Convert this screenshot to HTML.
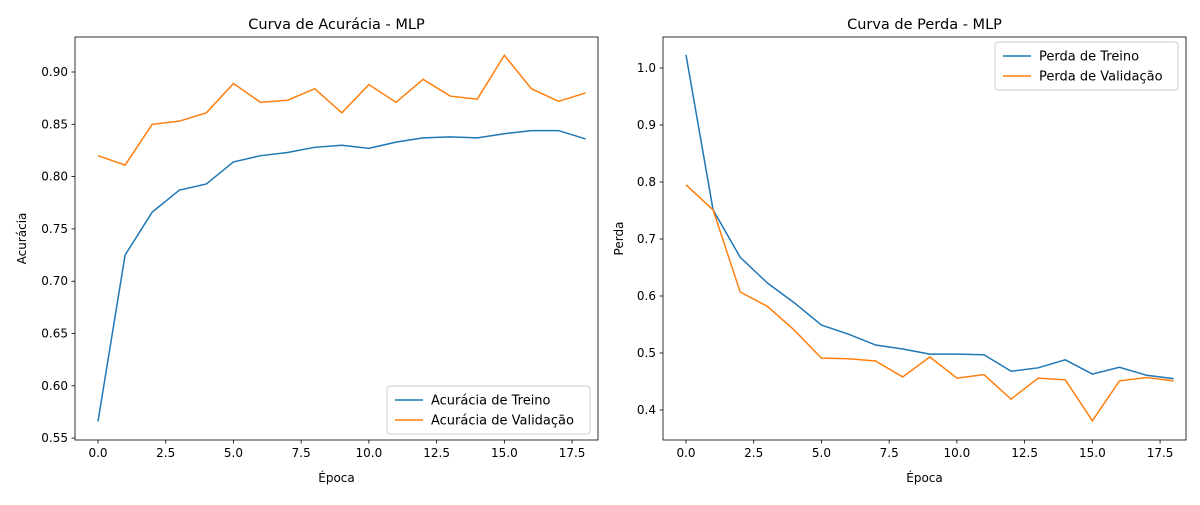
<!DOCTYPE html>
<html><head><meta charset="utf-8"><style>
body{margin:0;background:#fff;width:1200px;height:500px;overflow:hidden}
svg{font-family:"DejaVu Sans","Liberation Sans",sans-serif}
</style></head><body>
<svg id="chart" width="1200" height="500"></svg>
<script>
const epochs=[0,1,2,3,4,5,6,7,8,9,10,11,12,13,14,15,16,17,18];
const accTrain=[0.566,0.725,0.766,0.787,0.793,0.814,0.820,0.823,0.828,0.830,0.827,0.833,0.837,0.838,0.837,0.841,0.844,0.844,0.836];
const accVal=[0.820,0.811,0.850,0.853,0.861,0.889,0.871,0.873,0.884,0.861,0.888,0.871,0.893,0.877,0.874,0.916,0.884,0.872,0.880];
const lossTrain=[1.023,0.751,0.668,0.623,0.588,0.549,0.533,0.514,0.507,0.498,0.498,0.497,0.468,0.474,0.488,0.463,0.475,0.461,0.455];
const lossVal=[0.795,0.751,0.607,0.582,0.540,0.491,0.490,0.486,0.458,0.493,0.456,0.462,0.419,0.456,0.453,0.381,0.451,0.457,0.451];
const xTicks=[0,2.5,5,7.5,10,12.5,15,17.5];
const xTickLabels=["0.0","2.5","5.0","7.5","10.0","12.5","15.0","17.5"];
const accTicks=[0.55,0.60,0.65,0.70,0.75,0.80,0.85,0.90];
const lossTicks=[0.4,0.5,0.6,0.7,0.8,0.9,1.0];

const NS="http://www.w3.org/2000/svg";
const svg=document.getElementById('chart');
function mk(tag,attrs,parent){const e=document.createElementNS(NS,tag);for(const k in attrs)e.setAttribute(k,attrs[k]);(parent||svg).appendChild(e);return e;}
function txt(s,attrs,parent){const t=mk('text',attrs,parent);t.textContent=s;return t;}

function panel(cfg){
  const g=mk('g',{});
  
  
  const L=cfg.L,R=cfg.R,T=37,B=440;
  const xs=v=>cfg.x0px+(v-0)*cfg.xUnit;
  const ys=v=>cfg.yRefPx-(v-cfg.yRef)*cfg.yUnit;
  // lines
  const cols=['#1f77b4','#ff7f0e'];
  cfg.series.forEach((s,i)=>{
    const p=mk('polyline',{points:epochs.map((e,j)=>xs(e)+','+ys(s[j])).join(' '),fill:'none',stroke:cols[i],'stroke-width':1.5},g);
    
    
  });
  const fr=mk('rect',{x:L,y:T,width:R-L,height:B-T,fill:'none',stroke:'#000','stroke-width':0.8},g);
  
  
  xTicks.forEach((v,i)=>{
    const x=xs(v);
    mk('line',{x1:x,x2:x,y1:B,y2:B+3.5,stroke:'#000','stroke-width':0.8},g);
    const t=txt(xTickLabels[i],{x:x,y:B+17,'font-size':12,'text-anchor':'middle',fill:'#000'},g);
    
    
  });
  cfg.yTicks.forEach(v=>{
    const y=ys(v);
    mk('line',{x1:L,x2:L-3.5,y1:y,y2:y,stroke:'#000','stroke-width':0.8},g);
    const t=txt(v.toFixed(cfg.dec),{x:L-7,y:y+4,'font-size':12,'text-anchor':'end',fill:'#000'},g);
    
    
  });
  const ti=txt(cfg.title,{x:(L+R)/2,y:29,'font-size':14.5,'text-anchor':'middle'},g);
  
  
  const xt=txt('Época',{x:(L+R)/2,y:482,'font-size':12,'text-anchor':'middle'},g);
  
  
  const cy=(T+B)/2;
  const yt=txt(cfg.ylabel,{x:cfg.ylx,y:cy,'font-size':12,'text-anchor':'middle',transform:`rotate(-90 ${cfg.ylx} ${cy})`},g);
  
  
  // legend
  const lg=mk('g',{},g);
  
  
  mk('rect',{x:cfg.lgx,y:cfg.lgy,width:cfg.lgw,height:48,rx:3,fill:'#fff','fill-opacity':0.8,stroke:'#ccc'},lg);
  cfg.legend.forEach((s,i)=>{
    const yy=cfg.lgy+14+i*20;
    mk('line',{x1:cfg.lgx+8,x2:cfg.lgx+36,y1:yy,y2:yy,stroke:cols[i],'stroke-width':1.5},lg);
    const t=txt(s,{x:cfg.lgx+44,y:yy+4.5,'font-size':13},lg);
    
    
  });
}
panel({name:'accuracy-panel',L:75,R:598,x0px:98,xUnit:27.09,yRef:0.90,yRefPx:72,yUnit:1046,
  series:[accTrain,accVal],seriesNames:['line-acc-train','line-acc-val'],yTicks:accTicks,dec:2,
  title:'Curva de Acurácia - MLP',ylabel:'Acurácia',ylx:26,
  legend:['Acurácia de Treino','Acurácia de Validação'],lgx:387,lgy:386,lgw:203});
panel({name:'loss-panel',L:663,R:1186,x0px:686,xUnit:27.09,yRef:1.0,yRefPx:68,yUnit:570,
  series:[lossTrain,lossVal],seriesNames:['line-loss-train','line-loss-val'],yTicks:lossTicks,dec:1,
  title:'Curva de Perda - MLP',ylabel:'Perda',ylx:623,
  legend:['Perda de Treino','Perda de Validação'],lgx:995,lgy:42,lgw:183});
</script>
</body></html>
